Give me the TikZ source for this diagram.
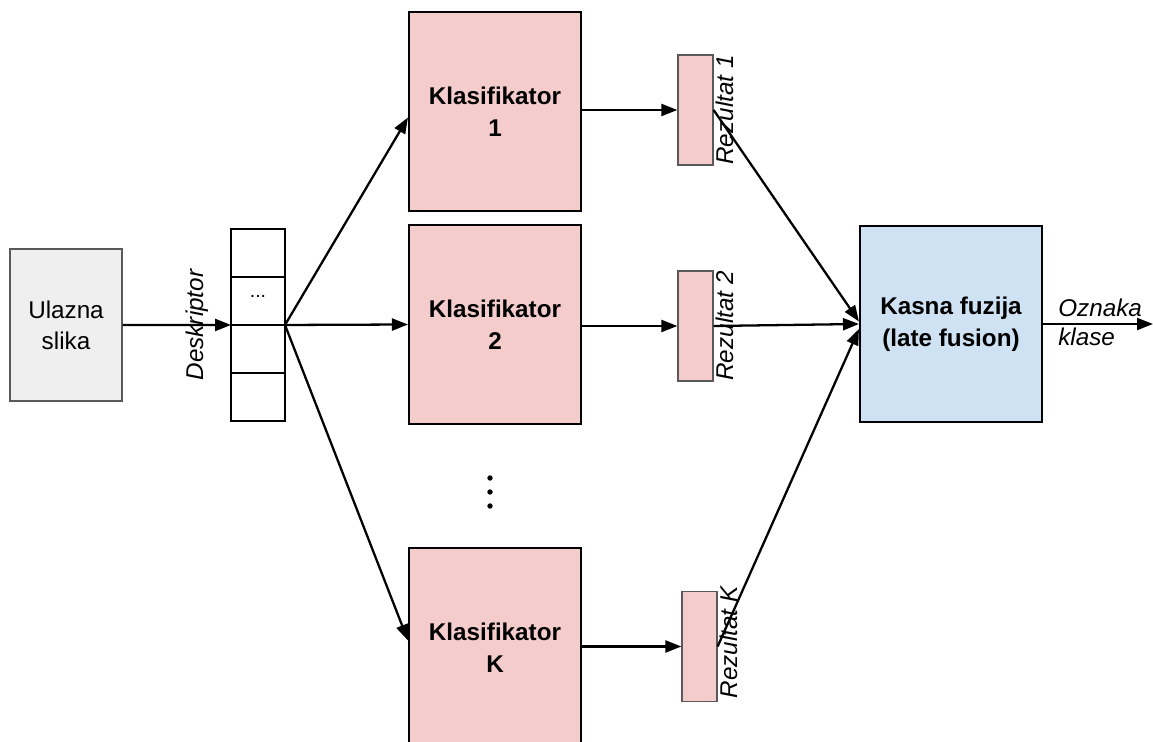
\documentclass[tikz,border=0pt]{standalone}
\usepackage{fontspec}
\setmainfont{Liberation Sans}
\usepackage{tikz}
\usetikzlibrary{positioning}
\usetikzlibrary{arrows.meta}
\usepackage{xcolor}
\definecolor{klasred}{HTML}{F4CCCC}
\definecolor{fusblue}{HTML}{CFE2F3}
\definecolor{inpgray}{HTML}{EFEFEF}
\definecolor{edgegray}{HTML}{595959}

\begin{document}
\begin{tikzpicture}[x=0.02cm, y=-0.02cm,
		>={Triangle[length=3.2mm, width=2.4mm]},
		font=\fontsize{13.8}{17.5}\selectfont,
		arr/.style={black, line width=1.3pt, ->},
		klas/.style={draw=black, line width=1.2pt, fill=klasred, minimum width=3.44cm, minimum height=3.98cm, align=center, font=\fontsize{13.8}{18.5}\selectfont\bfseries},
		res/.style={draw=edgegray, line width=0.7pt, fill=klasred, minimum width=0.7cm, minimum height=2.2cm, inner sep=0pt},
		cell/.style={draw=black, line width=0.7pt, minimum width=1.08cm, minimum height=0.96cm, outer sep=0pt, inner sep=0pt},
		lbl/.style={rotate=90, inner sep=1pt, font=\fontsize{13.8}{16.5}\selectfont\itshape}]
	\useasboundingbox (0,0) rectangle (1153,742);
	% ulaz i deskriptor
	\node[draw=edgegray, line width=0.7pt, fill=inpgray, minimum width=2.24cm, minimum height=3.04cm, align=center] (ulaz) at (66,325) {Ulazna\\slika};
	\node[cell] (c1) at (258,253) {};
	\node[cell, below=0pt of c1] (c2) {\raisebox{0.7ex}{\fontsize{11}{11}\selectfont ...}};
	\node[cell, below=0pt of c2] (c3) {};
	\node[cell, below=0pt of c3] (c4) {};
	\draw[arr] (ulaz.east) -- (c2.south west);
	\node[lbl] (desk) at (197,325) {Deskriptor};
	% klasifikatori
	\node[klas] (k1) at (495,111.5) {Klasifikator\\1};
	\node[klas] (k2) at (495,324.5) {Klasifikator\\2};
	\node[klas] (kk) at (495,647.5) {Klasifikator\\K};
	\filldraw[black] (490,478) circle (2.3);
	\filldraw[black] (490,492) circle (2.3);
	\filldraw[black] (490,506) circle (2.3);
	\draw[arr] (c2.south east) -- ([yshift=-0.12cm]k1.west);
	\draw[arr] (c2.south east) -- (k2.west);
	\draw[arr] (c2.south east) -- ([yshift=0.14cm]kk.west);
	% rezultati
	\node[res] (r1) at (695.5,110) {};
	\node[res] (r2) at (695.5,326) {};
	\node[res] (rk) at (699.5,646.5) {};
	\draw[arr] (k1.east |- r1.west) -- (r1.west);
	\draw[arr] (k2.east |- r2.west) -- (r2.west);
	\draw[arr] (kk.east |- rk.west) -- (rk.west);
	\node[lbl, anchor=north] (l1) at (r1.east) {Rezultat 1};
	\node[lbl, anchor=north] (l2) at (r2.east) {Rezultat 2};
	\node[lbl, anchor=north] (lk) at ([yshift=0.08cm]rk.east) {Rezultat K};
	% kasna fuzija
	\node[draw=black, line width=1.2pt, fill=fusblue, minimum width=3.64cm, minimum height=3.92cm, align=center, font=\fontsize{13.8}{18.5}\selectfont\bfseries] (fuz) at (951,324) {Kasna fuzija\\(late fusion)};
	\draw[arr] (r1.east) -- ([yshift=0.05cm]fuz.west);
	\draw[arr] (r2.east) -- (fuz.west);
	\draw[arr] (rk.east) -- ([yshift=-0.1cm]fuz.west);
	\coordinate (izlaz) at (1153,324);
	\draw[arr] (fuz.east) -- (izlaz);
	\node[anchor=west, align=left, inner sep=0pt, font=\fontsize{13.8}{16.5}\selectfont\itshape] (ozn) at (1058,322) {Oznaka\\klase};
\end{tikzpicture}
\end{document}
